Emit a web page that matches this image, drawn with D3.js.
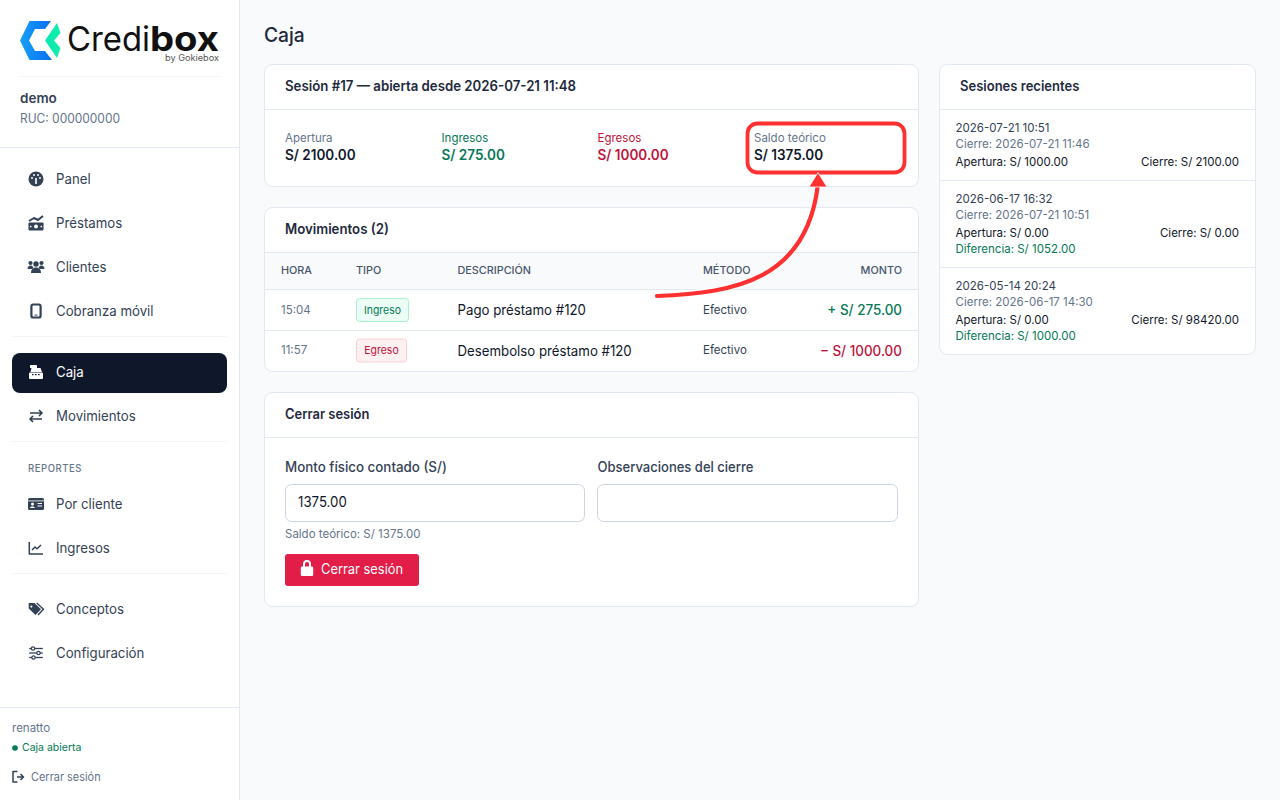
<!DOCTYPE html>
<html lang="es"><head><meta charset="utf-8"><title>Caja</title>
<script src="https://cdn.jsdelivr.net/npm/d3@7"></script>
<style>html,body{margin:0;padding:0;background:#f8fafc;overflow:hidden}svg{display:block}text{font-family:Inter,"Noto Sans",sans-serif;white-space:pre}</style>
</head><body><svg id="c" width="1280" height="800"></svg>
<script>
const navMain = ["Panel","Préstamos","Clientes","Cobranza móvil"];
const navCash = ["Caja","Movimientos"];
const navReports = ["Por cliente","Ingresos"];
const navConfig = ["Conceptos","Configuración"];
const summaryLabels = ["Apertura","Ingresos","Egresos","Saldo teórico"];
const summaryValues = [2100,275,1000,1375];
const tableHeads = ["HORA","TIPO","DESCRIPCIÓN","MÉTODO","MONTO"];
const moveTimes = ["15:04","11:57"];
const moveTypes = ["Ingreso","Egreso"];
const moveDesc = ["Pago préstamo #120","Desembolso préstamo #120"];
const moveMethod = ["Efectivo","Efectivo"];
const moveAmount = [275,1000];
const sessOpen = ["2026-07-21 10:51","2026-06-17 16:32","2026-05-14 20:24"];
const sessClose = ["2026-07-21 11:46","2026-07-21 10:51","2026-06-17 14:30"];
const sessStart = [1000,0,0];
const sessEnd = [2100,0,98420];
const sessDiff = [null,1052,1000];

const C={ink:"#1e293b",nav:"#334155",mute:"#64748b",line:"#e2e8f0",soft:"#f1f5f9",green:"#047857",red:"#be123c",black:"#0f172a"};
const money=v=>"S/ "+v.toFixed(2);
const svg=d3.select("#c");
const defs=svg.append("defs");
const g1=defs.append("linearGradient").attr("id","lb").attr("x1",0).attr("x2",1).attr("y1",0).attr("y2",0);
g1.append("stop").attr("offset","0").attr("stop-color","#16a0f8");g1.append("stop").attr("offset","1").attr("stop-color","#0a6cf0");
const g2=defs.append("linearGradient").attr("id","lg").attr("x1",0).attr("x2",1).attr("y1",0).attr("y2",0);
g2.append("stop").attr("offset","0").attr("stop-color","#0ae6b4");g2.append("stop").attr("offset","1").attr("stop-color","#12f0a6");

function T(x,cy,s,size,fill,o={}){
  const n=svg.append("text").attr("x",x).attr("y",cy+(size<13?-.2:.4)+size*.36).attr("font-size",size).attr("fill",fill)
    .attr("font-weight",o.w||400).attr("text-anchor",o.a||"start").text(s);
  if(o.ls)n.attr("letter-spacing",o.ls);
  const k=o.k||(size>=14?.945:1);
  if(o.len)n.attr("textLength",o.len).attr("lengthAdjust","spacingAndGlyphs");
  else if(k!==1)n.attr("textLength",n.node().getComputedTextLength()*k).attr("lengthAdjust","spacingAndGlyphs");
  return n;
}
function R(x,y,w,h,r,fill,stroke){return svg.append("rect").attr("x",x).attr("y",y).attr("width",w).attr("height",h).attr("rx",r).attr("fill",fill).attr("stroke",stroke||"none");}
function L(x1,x2,y,c){svg.append("line").attr("x1",x1).attr("x2",x2).attr("y1",y).attr("y2",y).attr("stroke",c||C.line);}
function P(d,fill,o={}){return svg.append("path").attr("d",d).attr("fill",fill).attr("stroke",o.s||"none").attr("stroke-width",o.sw||1).attr("stroke-linecap",o.cap||"butt").attr("stroke-linejoin","round").attr("fill-rule","evenodd");}

// sidebar
R(0,0,239.5,800,0,"#fff");
svg.append("line").attr("x1",239.5).attr("x2",239.5).attr("y1",0).attr("y2",800).attr("stroke",C.line);
// logo
P("M20 40.5L29.5 21H51L45 29H35L29 40.5 35 51H45L52 60H29.5Z","url(#lb)");
P("M45 40.5L57 23 60.5 33 54 40.5 60.5 48 57 58Z","url(#lg)");
T(67,39,"Credi",33.5,"#111",{len:83});
T(150,39,"box",33.5,"#111",{w:700,len:69});
T(219,57.5,"by Gokiebox",9,"#555",{a:"end",len:54,k:1});
L(20,220,76.5,C.soft);
T(20,98,"demo",13.5,C.nav,{w:600});
T(20,119,"RUC: 000000000",12.5,C.mute,{len:100});
L(0,240,147.5);

const ys={Panel:179,"Préstamos":223,Clientes:267,"Cobranza móvil":311,Caja:372,Movimientos:416,"Por cliente":504,Ingresos:548,Conceptos:609,"Configuración":653};
R(12,353,215,40,8,C.black);
[...navMain,...navCash,...navReports,...navConfig].forEach(n=>{T(56,ys[n],n,14,n==="Caja"?"#fff":C.nav);icon(n,36,ys[n],n==="Caja"?"#fff":C.nav)});
L(12,227,336.5,C.soft);L(12,227,441.5,C.soft);L(12,227,573.5,C.soft);
T(28,469,"REPORTES",10,C.mute,{w:500,ls:.6,k:.95});
L(0,240,707.5);
T(12,728,"renatto",11.5,C.mute);
svg.append("circle").attr("cx",15).attr("cy",748).attr("r",2.8).attr("fill",C.green);
T(22,747,"Caja abierta",10.5,C.green);
P("M17.5 771.5H13V782H17.5M17 777H23M20.5 774L23.5 777 20.5 780","none",{s:C.nav,sw:1.5});
T(31,777,"Cerrar sesión",11.5,C.mute,{k:.95});

function icon(n,x,y,c){
 if(n==="Panel"){svg.append("circle").attr("cx",x).attr("cy",y).attr("r",7.5).attr("fill",c);
  [[-4,-1],[-2,-4],[2,-4],[4,-1]].forEach(d=>svg.append("circle").attr("cx",x+d[0]).attr("cy",y+d[1]).attr("r",1).attr("fill","#fff"));
  svg.append("rect").attr("x",x-.8).attr("y",y-1).attr("width",1.6).attr("height",6).attr("fill","#fff");}
 else if(n==="Préstamos"){R(x-7.5,y-.5,15,8,1,c);svg.append("circle").attr("cx",x).attr("cy",y+3.5).attr("r",2).attr("fill","#fff");
  R(x-6,y+2.8,1.5,1.5,0,"#fff");R(x+4.5,y+2.8,1.5,1.5,0,"#fff");
  P(`M${x-7} ${y-2}L${x-2} ${y-5}L${x+2} ${y-3}L${x+7} ${y-7}`,"none",{s:c,sw:2});}
 else if(n==="Clientes"){[[-5.5,-4,2.1],[5.5,-4,2.1],[0,-3,2.7]].forEach(d=>svg.append("circle").attr("cx",x+d[0]).attr("cy",y+d[1]).attr("r",d[2]).attr("fill",c));
  P(`M${x-8.5} ${y+2}Q${x-8.5} ${y-1.5} ${x-5} ${y-1.5}Q${x-3} ${y-1.5} ${x-2.5} ${y+2}Z M${x+8.5} ${y+2}Q${x+8.5} ${y-1.5} ${x+5} ${y-1.5}Q${x+3} ${y-1.5} ${x+2.5} ${y+2}Z M${x-5} ${y+6}Q${x-5} ${y+.5} ${x} ${y+.5}Q${x+5} ${y+.5} ${x+5} ${y+6}Z`,c);}
 else if(n==="Cobranza móvil"){R(x-4.6,y-6.5,9.2,13,1.8,"none",c).attr("stroke-width",2.2);R(x-1.5,y+3.6,3,1,0,c);}
 else if(n==="Caja"){R(x-7,y+.5,14,6.5,1,c);P(`M${x-5.5} ${y}L${x-4.5} ${y-4}H${x+4.5}L${x+6} ${y}Z`,c);R(x-6,y-7,7,3,.5,c);
  [-4,-1,2].forEach(d=>R(x+d,y+2,1.6,1.2,0,C.black));}
 else if(n==="Movimientos"){P(`M${x-6} ${y-3}H${x+6}M${x+3} ${y-6}L${x+6} ${y-3}L${x+3} ${y}M${x+6} ${y+3}H${x-6}M${x-3} ${y}L${x-6} ${y+3}L${x-3} ${y+6}`,"none",{s:c,sw:1.7});}
 else if(n==="Por cliente"){R(x-8,y-6,16,12,1.5,c);R(x-8,y-3.5,16,.8,0,"#fff");
  svg.append("circle").attr("cx",x-3.5).attr("cy",y).attr("r",1.5).attr("fill","#fff");P(`M${x-6.3} ${y+4}Q${x-3.5} ${y+.5} ${x-.8} ${y+4}Z`,"#fff");R(x+1.5,y-1,4.5,1,0,"#fff");R(x+1.5,y+1.5,4.5,1,0,"#fff");}
 else if(n==="Ingresos"){P(`M${x-6.7} ${y-6}V${y+6}H${x+7}`,"none",{s:c,sw:1.5});P(`M${x-4} ${y+2}L${x-1} ${y-1}L${x+1} ${y+.7}L${x+5} ${y-3}`,"none",{s:c,sw:1.5});}
 else if(n==="Conceptos"){P(`M${x-7.3} ${y-6}H${x-1.5}L${x+5} ${y+.3}L${x-.5} ${y+6}L${x-7.3} ${y-.5}Z M${x-4.7} ${y-3.5}a1 1 0 1 0 .1 0Z`,c);P(`M${x+.8} ${y-6}L${x+7.5} ${y+.3}L${x+2} ${y+6}`,"none",{s:c,sw:1.4});}
 else {[[-3,-4.5],[2.5,0],[-2.5,4.5]].forEach(d=>{P(`M${x-6.8} ${y+d[1]}H${x+6.8}`,"none",{s:c,sw:1.3});svg.append("circle").attr("cx",x+d[0]).attr("cy",y+d[1]).attr("r",1.7).attr("fill","#fff").attr("stroke",c).attr("stroke-width",1.2);});}
}

// main
T(264,34,"Caja",20,C.ink,{w:500,k:.96});
function card(x,y,w,h){R(x+.5,y+.5,w-1,h-1,8,"#fff",C.line);}

card(264,64,655,123);L(265,918,109.5);
T(285,86,"Sesión #17 — abierta desde 2026-07-21 11:48",14,C.ink,{w:600,len:291});
const sumX=[285,441.5,597.5,754];
const sumC=[C.mute,C.green,C.red,C.mute], valC=[C.black,C.green,C.red,C.black];
summaryLabels.forEach((s,i)=>{T(sumX[i],138,s,11.5,sumC[i]);T(sumX[i],155,money(summaryValues[i]),14,valC[i],{w:600,k:.965});});

card(264,207,655,165);
R(265,253,653,37,0,"#f8fafc");
L(265,918,252.5);L(265,918,289.5);L(265,918,330.5);
T(285,229,"Movimientos (2)",14,C.ink,{w:600});
const hx=[281,356,457.5,703,902];
tableHeads.forEach((h,i)=>T(hx[i],270,h,10.5,"#475569",{w:500,a:i===4?"end":"start",k:1.03}));
const rowY=[310,350.5];
moveTimes.forEach((t,i)=>{
  const y=rowY[i],ing=i===0;
  T(281,y,t,11.5,C.mute);
  R(356.5,y-11.5,ing?52:50,23,3,ing?"#ecfdf5":"#fff1f2",ing?"#a7f3d0":"#fecdd3");
  T(356.5+(ing?52:50)/2,y,moveTypes[i],11,ing?C.green:C.red,{a:"middle",k:.95});
  T(457.5,y,moveDesc[i],14,C.black);
  T(703,y,moveMethod[i],11.5,C.nav);
  T(902,y,(ing?"+ ":"− ")+money(moveAmount[i]),14,ing?C.green:C.red,{a:"end",w:500,k:.96});
});

card(264,392,655,215);L(265,918,437.5);
T(285,414,"Cerrar sesión",14,C.ink,{w:600,k:.925});
T(285,467,"Monto físico contado (S/)",14,C.nav,{w:500,k:.953});
T(597.5,467,"Observaciones del cierre",14,C.nav,{w:500,k:.93});
R(285.5,484.5,299,37,6,"#fff","#cbd5e1");
R(597.5,484.5,300,37,6,"#fff","#cbd5e1");
T(298,502,"1375.00",14,C.black);
T(285,534,"Saldo teórico: "+money(summaryValues[3]),11.5,C.mute);
R(285,554,134,32,3,"#e11d48");
P("M303 566.5v-2.5a4 4 0 0 1 8 0v2.5h1a1.2 1.2 0 0 1 1.2 1.2v7a1.2 1.2 0 0 1-1.2 1.2h-10a1.2 1.2 0 0 1-1.2-1.2v-7a1.2 1.2 0 0 1 1.2-1.2Zm2 0h4v-2.5a2 2 0 0 0-4 0Z","#fff");
T(321,569,"Cerrar sesión",14,"#fff",{k:.92});

// sessions
card(939,64,317,291);L(940,1255,109.5);L(940,1255,180.5);L(940,1255,267.5);
T(960,86,"Sesiones recientes",14,C.ink,{w:600,k:.93});
const sessY=[128,199,286];
sessOpen.forEach((s,i)=>{
  const y=sessY[i];
  T(955.5,y,s,11.5,C.nav);
  T(955.5,y+16,"Cierre: "+sessClose[i],11.5,C.mute);
  T(955.5,y+34,"Apertura: "+money(sessStart[i]),11.5,C.black);
  T(1239,y+34,"Cierre: "+money(sessEnd[i]),11.5,C.black,{a:"end"});
  if(sessDiff[i]!==null)T(955.5,y+50,"Diferencia: "+money(sessDiff[i]),11.5,C.green);
});

// annotation
const red="#ff3030";
R(747.5,123.5,157,49,10,"none",red).attr("stroke-width",3.8);
const arrow=d3.path();arrow.moveTo(657,296);arrow.bezierCurveTo(735,293,807,280,818,184);
P(arrow.toString(),"none",{s:"#fff",sw:6.5,cap:"round"});
P(arrow.toString(),"none",{s:red,sw:4.2,cap:"round"});
P("M818 172.5L809 187H827Z",red,{s:"#fff",sw:.8});
</script></body></html>
